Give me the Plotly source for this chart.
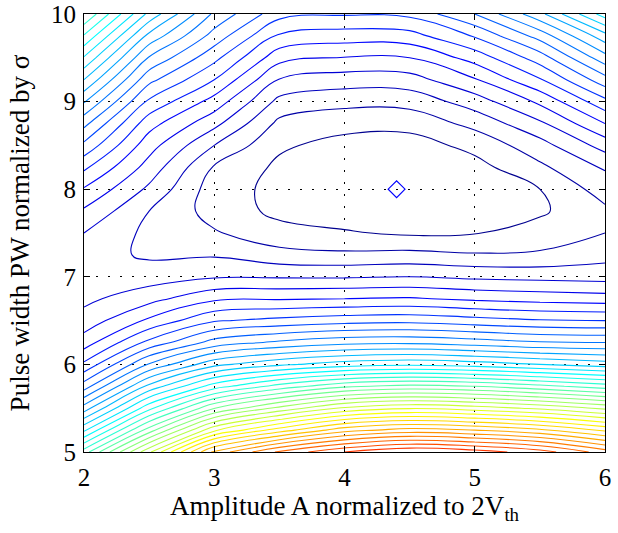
import plotly.graph_objects as go

# grid coordinates
amp = [2, 2.5, 3, 3.5, 4, 4.5, 5, 5.5, 6]
pw = [5, 5.25, 5.5, 5.75, 6, 6.25, 6.5, 6.75, 7, 7.25, 7.5, 7.75, 8,
      8.25, 8.5, 8.75, 9, 9.25, 9.5, 9.75, 10]

# level values, one list per amplitude column (pw from 5 to 10)
z_a20 = [19.5, 15.8, 12.45, 9.5, 7.2, 5.5, 4.4, 3.75, 3.4, 3.42, 4.0, 4.85, 5.9, 7.2, 8.75, 10.3, 12.1, 14.0, 15.9, 17.9, 20.0]
z_a25 = [25.8, 21.5, 17.7, 14.3, 11.1, 8.3, 6.2, 4.65, 3.5, 2.85, 2.75, 3.0, 3.8, 4.6, 5.4, 6.4, 7.8, 9.3, 10.9, 12.7, 14.7]
z_a30 = [32.3, 26.8, 21.95, 17.5, 13.7, 10.4, 7.9, 5.8, 3.9, 2.9, 2.1, 1.6, 1.5, 1.9, 3.0, 4.3, 5.6, 7.0, 8.3, 9.6, 10.8]
z_a35 = [35.2, 29.5, 24.3, 19.4, 14.8, 11.2, 8.3, 5.9, 3.9, 2.35, 1.35, 0.75, 0.7, 0.8, 1.15, 1.75, 2.7, 3.95, 5.35, 6.85, 8.35]
z_a40 = [37.0, 31.6, 26.2, 20.8, 15.5, 11.7, 8.6, 6.0, 3.9, 2.2, 1.1, 0.45, 0.2, 0.3, 0.65, 1.35, 2.3, 3.5, 4.95, 6.5, 8.1]
z_a45 = [38.0, 32.4, 26.9, 21.3, 15.8, 11.8, 8.7, 6.1, 4.0, 2.3, 0.85, 0.3, 0.1, 0.2, 0.55, 1.35, 2.35, 3.57, 5.0, 6.6, 8.25]
z_a50 = [37.5, 32.0, 26.5, 21.0, 15.5, 11.5, 8.4, 5.8, 3.8, 2.1, 0.95, 0.5, 0.4, 0.65, 1.3, 2.3, 3.5, 4.9, 6.4, 8.1, 10.0]
z_a55 = [36.5, 31.2, 25.8, 20.3, 15.0, 11.1, 8.1, 5.6, 3.7, 2.15, 1.4, 0.85, 1.0, 1.8, 2.6, 3.8, 5.2, 6.9, 8.5, 10.4, 12.7]
z_a60 = [34.5, 29.8, 24.8, 19.5, 14.5, 11.0, 8.0, 5.45, 3.6, 2.65, 2.0, 1.8, 2.45, 3.1, 4.4, 6.0, 7.7, 9.6, 11.6, 13.6, 16.5]

columns = [z_a20, z_a25, z_a30, z_a35, z_a40, z_a45, z_a50, z_a55, z_a60]
z = [list(row) for row in zip(*columns)]

# optimum marker
opt_amp = [4.4]
opt_pw = [8.0]

jet = [[0.0, 'rgb(0,0,143)'], [0.11, 'rgb(0,0,255)'], [0.365, 'rgb(0,255,255)'],
       [0.62, 'rgb(255,255,0)'], [0.873, 'rgb(255,0,0)'], [1.0, 'rgb(128,0,0)']]

fig = go.Figure()
fig.add_trace(go.Contour(
    x=amp, y=pw, z=z,
    contours=dict(start=1, end=45, size=1, coloring='lines'),
    line=dict(width=1.1, smoothing=1.2),
    colorscale=jet, zmin=0, zmax=50, showscale=False, hoverinfo='skip'))
fig.add_trace(go.Scatter(
    x=opt_amp, y=opt_pw, mode='markers',
    marker=dict(symbol='diamond-open', size=13, color='rgb(0,0,255)', line=dict(width=1.2, color='rgb(0,0,255)')),
    showlegend=False))

tick_font = dict(family='Liberation Serif, Times New Roman, serif', size=25, color='black')
title_font = dict(family='Liberation Serif, Times New Roman, serif', size=27, color='black')
axis_common = dict(showline=True, linecolor='black', linewidth=1.2, mirror='ticks',
                   ticks='inside', ticklen=6, tickwidth=1, tickcolor='black',
                   showgrid=True, gridcolor='black', gridwidth=1, griddash='2px,10px',
                   zeroline=False, tickfont=tick_font, automargin=False)
fig.update_xaxes(range=[2, 6], tickvals=[2, 3, 4, 5, 6],
                 title=dict(text='Amplitude A normalized to 2V<sub>th</sub>', font=title_font, standoff=2),
                 ticklabelstandoff=3, **axis_common)
fig.update_yaxes(range=[5, 10], tickvals=[5, 6, 7, 8, 9, 10],
                 title=dict(text='Pulse width PW normalized by σ', font=title_font, standoff=13),
                 ticklabelstandoff=2, **axis_common)
fig.update_layout(width=618, height=533, margin=dict(l=84, r=13, t=14, b=81),
                  paper_bgcolor='white', plot_bgcolor='white', showlegend=False, font=tick_font)
fig.write_html('out.html')
